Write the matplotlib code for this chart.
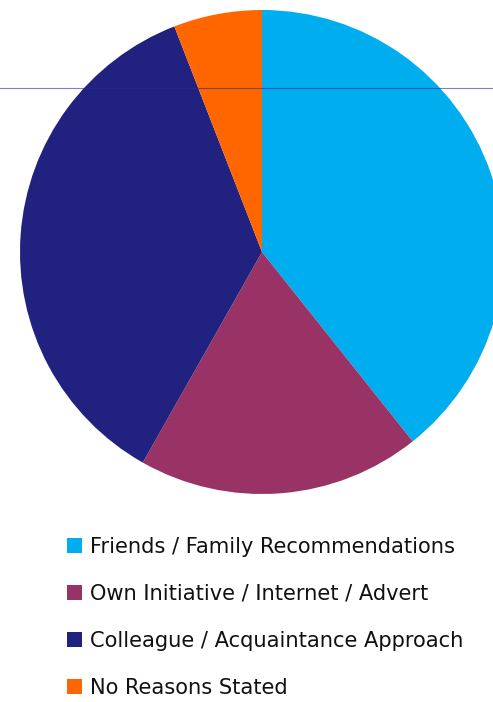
import matplotlib
matplotlib.use("Agg")
import matplotlib.pyplot as plt

labels = ["Friends / Family Recommendations",
          "Own Initiative / Internet / Advert",
          "Colleague / Acquaintance Approach",
          "No Reasons Stated"]
shares = [39.3, 18.9, 35.9, 5.9]
colors = ["#00aeef", "#993366", "#21217f", "#ff6600"]

W, H = 493, 702
fig = plt.figure(figsize=(W / 100, H / 100), dpi=100)
ax = fig.add_axes([0, 0, 1, 1])

# pie laid out in pixel units, y measured from the bottom
wedges, _ = ax.pie(shares, colors=colors, startangle=90, counterclock=False,
                   center=(262, H - 252), radius=242,
                   wedgeprops=dict(linewidth=0))
ax.set_xlim(0, W)
ax.set_ylim(0, H)
ax.set_aspect("equal")
ax.axis("off")

# thin guide line across the top of the chart
ax.axhline(H - 88, color="#2a2a9a", alpha=0.6, lw=0.8, zorder=10)

leg = ax.legend(wedges, labels, loc="upper left",
                bbox_to_anchor=(67 / W, 1 - 537 / H),
                bbox_transform=fig.transFigure,
                frameon=False, fontsize=15.1, handlelength=0.72,
                handleheight=0.72, handletextpad=0.38, labelspacing=1.28,
                borderpad=0, borderaxespad=0)
for t in leg.get_texts():
    t.set_color("#111111")

fig.savefig("out.png", dpi=100)
